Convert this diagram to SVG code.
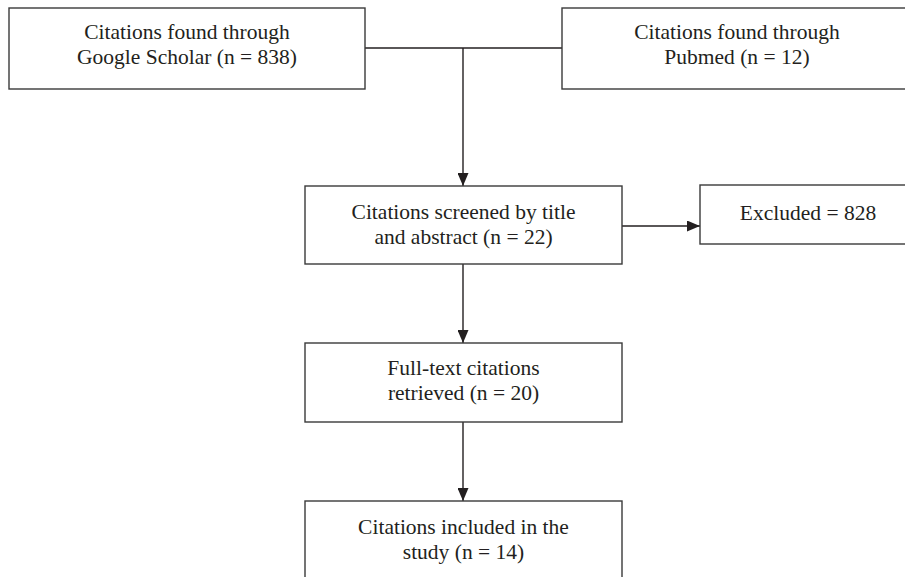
<svg xmlns="http://www.w3.org/2000/svg" width="905" height="577" viewBox="0 0 905 577">
<style>
.box{fill:#fff;stroke:#3a3a3a;stroke-width:1.4}
.lbl{font-family:"Liberation Serif","Times New Roman",serif;font-size:21.5px;fill:#231f20;text-anchor:middle}
.con{fill:none;stroke:#231f20;stroke-width:1.4}
</style>
<defs>
<marker id="ahb" viewBox="0 0 13 11" refX="13" refY="5.5" markerWidth="13" markerHeight="11" markerUnits="userSpaceOnUse" orient="auto">
<path d="M0,0 L13,5.5 L0,11 Z" fill="#231f20"/>
</marker>
</defs>
<rect width="905" height="577" fill="#fff"/>
<g id="connectors">
<line class="con" x1="365" y1="48" x2="562" y2="48"/>
<line class="con" x1="463" y1="48" x2="463" y2="186" marker-end="url(#ahb)"/>
<line class="con" x1="622" y1="226" x2="700" y2="226" marker-end="url(#ahb)"/>
<line class="con" x1="463" y1="264" x2="463" y2="343" marker-end="url(#ahb)"/>
<line class="con" x1="463" y1="422" x2="463" y2="501" marker-end="url(#ahb)"/>
</g>
<g id="google">
<rect class="box" x="9" y="8" width="356" height="81"/>
<text class="lbl" x="187" y="39">Citations found through</text>
<text class="lbl" x="187" y="64">Google Scholar (n = 838)</text>
</g>
<g id="pubmed">
<rect class="box" x="562" y="8" width="350" height="81"/>
<text class="lbl" x="737" y="39">Citations found through</text>
<text class="lbl" x="737" y="64">Pubmed (n = 12)</text>
</g>
<g id="screened">
<rect class="box" x="305" y="186" width="317" height="78"/>
<text class="lbl" x="463.5" y="219">Citations screened by title</text>
<text class="lbl" x="463.5" y="244">and abstract (n = 22)</text>
</g>
<g id="excluded">
<rect class="box" x="700" y="185" width="216" height="59"/>
<text class="lbl" x="808" y="220">Excluded = 828</text>
</g>
<g id="fulltext">
<rect class="box" x="305" y="343" width="317" height="79"/>
<text class="lbl" x="463.5" y="375">Full-text citations</text>
<text class="lbl" x="463.5" y="400">retrieved (n = 20)</text>
</g>
<g id="included">
<rect class="box" x="305" y="501" width="317" height="90"/>
<text class="lbl" x="463.5" y="534">Citations included in the</text>
<text class="lbl" x="463.5" y="559">study (n = 14)</text>
</g>
</svg>
